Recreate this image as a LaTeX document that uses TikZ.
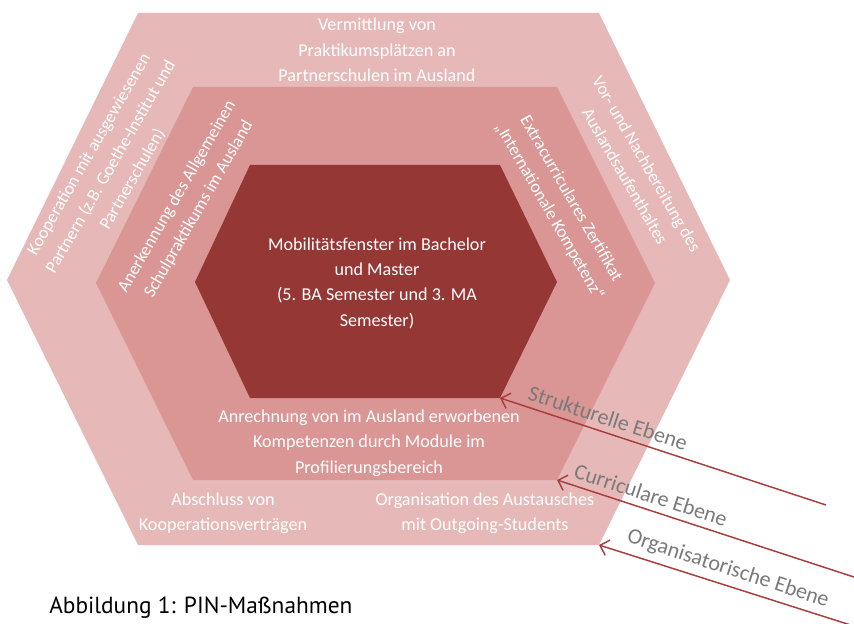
\documentclass[tikz,border=0pt]{standalone}
\usepackage{fontspec}
\setmainfont{Carlito}
\newfontfamily\captionfont{PT Sans}
\usetikzlibrary{arrows.meta}
\definecolor{hexouter}{HTML}{E6B9B8}
\definecolor{hexmiddle}{HTML}{D99694}
\definecolor{hexinner}{HTML}{953735}
\definecolor{ebenered}{HTML}{A83E3C}
\definecolor{ebenegray}{HTML}{7A7A7A}
\tikzset{
	hexlabel/.style={text=white, align=center, inner sep=0pt, font=\fontsize{13.6}{19}\selectfont},
	sidelabel/.style={hexlabel, font=\fontsize{13.2}{18.8}\selectfont},
	ebenelabel/.style={text=ebenegray, rotate=-18, inner sep=0pt, font=\fontsize{16.5}{20}\selectfont},
	ebenearrow/.style={ebenered, line width=1.1pt, -{Straight Barb[length=6pt,width=12pt]}},
}

\begin{document}
\begin{tikzpicture}[x=0.75pt, y=-0.75pt]
			%%%%% START %%%%%
			\useasboundingbox (0,0) rectangle (854,624);
			
			\fill[hexouter] (7,280) -- (138,13) -- (599,13) -- (730,280) -- (599,545) -- (138,545) -- cycle;
			\fill[hexmiddle] (96,283) -- (193,87) -- (557,87) -- (655,283) -- (557,480) -- (193,480) -- cycle;
			\fill[hexinner] (195,282) -- (250,165) -- (500,165) -- (557,282) -- (500,398) -- (250,398) -- cycle;
			
			\coordinate (innerCorner) at (500,398);
			\coordinate (middleCorner) at (557,480);
			\coordinate (outerCorner) at (599,545);
			\coordinate (strukturEnd) at (826,505);
			\coordinate (curriculumEnd) at (860,579);
			\coordinate (organisationEnd) at (860,628);
			
			\node[hexlabel] (vermittlung) at (377,50) {Vermittlung von\\Praktikumsplätzen an\\Partnerschulen im Ausland};
			\node[sidelabel, rotate=60] (kooperation) at (111,167) {Kooperation mit ausgewiesenen\\Partnern (z.B. Goethe-Institut und\\Partnerschulen)};
			\node[sidelabel, rotate=60] (anerkennung) at (188,203) {Anerkennung des Allgemeinen\\Schulpraktikums im Ausland};
			\node[sidelabel, rotate=-60] (vorbereitung) at (636,170) {Vor- und Nachbereitung des\\Auslandsaufenthaltes};
			\node[sidelabel, rotate=-60] (zertifikat) at (560,205) {Extracurriculares Zertifikat\\„Internationale Kompetenz“};
			\node[hexlabel] (mobilitaet) at (377,283) {Mobilitätsfenster im Bachelor\\und Master\\(5. BA Semester und 3. MA\\Semester)};
			\node[hexlabel] (anrechnung) at (369,443) {Anrechnung von im Ausland erworbenen\\Kompetenzen durch Module im\\Profilierungsbereich};
			\node[hexlabel] (abschluss) at (223,513) {Abschluss von\\Kooperationsverträgen};
			\node[hexlabel] (austausch) at (485,513) {Organisation des Austausches\\mit Outgoing-Students};
			
			\draw[ebenearrow] (strukturEnd) -- (innerCorner);
			\draw[ebenearrow] (curriculumEnd) -- (middleCorner);
			\draw[ebenearrow] (organisationEnd) -- (outerCorner);
			
			\node[ebenelabel] (strukturell) at (608,418) {Strukturelle Ebene};
			\node[ebenelabel] (curricular) at (651,495) {Curriculare Ebene};
			\node[ebenelabel] (organisatorisch) at (728,569) {Organisatorische Ebene};
			
			\node[anchor=base west, inner sep=0pt, font=\captionfont\fontsize{17.5}{21}\selectfont] (caption) at (49,613) {Abbildung 1: PIN-Maßnahmen};
			%%%%% END %%%%%
\end{tikzpicture}
\end{document}
